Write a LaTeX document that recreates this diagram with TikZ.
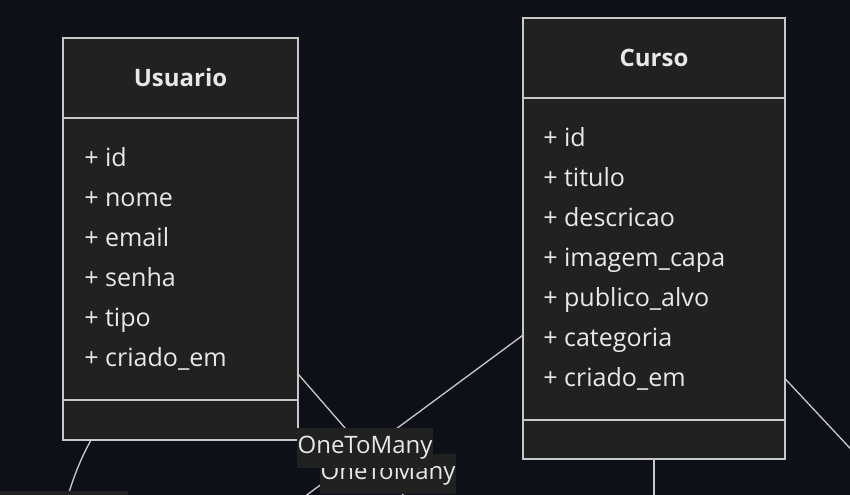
\documentclass[tikz,border=0pt]{standalone}
\usepackage{fontspec}
\setmainfont{Open Sans}
\definecolor{bgdark}{RGB}{13,16,23}
\definecolor{boxfill}{RGB}{32,33,32}
\definecolor{edgegray}{RGB}{200,200,200}
\definecolor{txtgray}{RGB}{232,232,232}
\tikzset{
  classbox/.style={draw=edgegray, fill=boxfill, line width=1pt, inner sep=0pt},
  attr/.style={anchor=base west, inner sep=0.75pt, text=txtgray, font=\fontsize{18.8}{22}\selectfont},
  ctitle/.style={inner sep=0.75pt, text=txtgray, font=\fontsize{18}{21}\selectfont\bfseries},
  rel/.style={draw=edgegray, line width=1pt},
  lbl/.style={fill=boxfill, inner sep=0pt, minimum width=102pt, minimum height=30pt, text=txtgray, font=\fontsize{18}{21}\selectfont}
}
\begin{document}
\begin{tikzpicture}[x=0.75pt,y=0.75pt,yscale=-1,xscale=1]
	\fill [bgdark] (0,0) rectangle (850,495);
	\clip (0,0) rectangle (850,495);
	% classes
	\node [classbox, minimum width=176.25pt, minimum height=301.5pt] (usuario) at (180.5,239) {};
	\node [classbox, minimum width=196.5pt, minimum height=330.75pt] (curso) at (654,238.5) {};
	\draw [rel] (63,118) -- (298,118) (63,400) -- (298,400) ;
	\draw [rel] (523,98) -- (785,98) (523,420) -- (785,420) ;
	\draw (180.5,78) node [ctitle] (usuarioTitle) {Usuario};
	\draw (83,167) node [attr] (uId) {+ id};
	\draw (83,207) node [attr] (uNome) {+ nome};
	\draw (83,247) node [attr] (uEmail) {+ email};
	\draw (83,287) node [attr] (uSenha) {+ senha};
	\draw (83,327) node [attr] (uTipo) {+ tipo};
	\draw (83,367) node [attr] (uCriado) {+ criado\_em};
	\draw (654,58) node [ctitle] (cursoTitle) {Curso};
	\draw (542,147) node [attr] (cId) {+ id};
	\draw (542,187) node [attr] (cTitulo) {+ titulo};
	\draw (542,227) node [attr] (cDescricao) {+ descricao};
	\draw (542,267) node [attr] (cImagem) {+ imagem\_capa};
	\draw (542,307) node [attr] (cPublico) {+ publico\_alvo};
	\draw (542,347) node [attr] (cCategoria) {+ categoria};
	\draw (542,387) node [attr] (cCriado) {+ criado\_em};
	% relations
	\coordinate (uOut) at (425,520);
	\coordinate (uLow) at (64,510);
	\coordinate (cOutLeft) at (273,520);
	\coordinate (cOutRight) at (917,520);
	\coordinate (cOutDown) at (654,520);
	\draw [rel] (usuario) -- (uOut) ;
	\draw [rel] (usuario.246) .. controls (84,453) and (74,472) .. (uLow) ;
	\draw [rel] (curso) -- (cOutLeft) ;
	\draw [rel] (curso) -- (cOutRight) ;
	\draw [rel] (curso) -- (cOutDown) ;
	\node [lbl, minimum width=96pt] (lblC) at (64,511) {};
	\node [lbl] (lblB) at (388,474) {OneToMany};
	\node [lbl] (lblA) at (365,448) {OneToMany};
\end{tikzpicture}
\end{document}
